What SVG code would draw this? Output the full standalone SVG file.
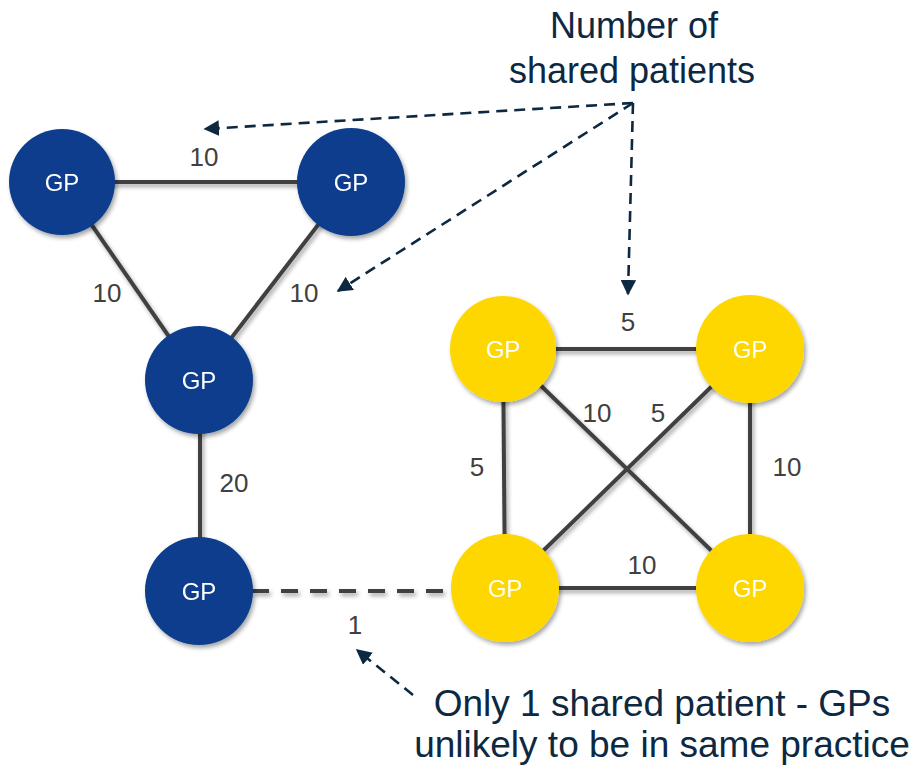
<svg xmlns="http://www.w3.org/2000/svg" width="915" height="766" viewBox="0 0 915 766">
  <style>
    .edge { stroke: #404040; stroke-width: 4; fill: none; }
    .weak { stroke-dasharray: 17 12; }
    .blue { fill: #083d8c; }
    .yellow { fill: #fed700; }
    .gp { font-family: "Liberation Sans", Arial, sans-serif; font-size: 24px; fill: #ffffff; text-anchor: middle; }
    .lbl { font-family: "Liberation Sans", Arial, sans-serif; font-size: 26px; fill: #404040; text-anchor: middle; }
    .note { font-family: "Liberation Sans", Arial, sans-serif; font-size: 36px; fill: #0d2841; text-anchor: middle; }
    .note-lg { font-size: 37px; }
    .pointer { stroke: #0d2841; stroke-width: 2.6; stroke-dasharray: 11 7; fill: none; marker-end: url(#head); }
  </style>
  <defs>
    <filter id="shadow" x="-30%" y="-30%" width="160%" height="160%">
      <feDropShadow dx="2" dy="3" stdDeviation="2.2" flood-color="#000000" flood-opacity="0.35"/>
    </filter>
    <marker id="head" viewBox="0 0 10 10" refX="9" refY="5" markerWidth="6" markerHeight="6" markerUnits="strokeWidth" orient="auto">
      <path d="M0,0 L10,5 L0,10 Z" fill="#0d2841"/>
    </marker>
  </defs>

  <rect width="915" height="766" fill="#ffffff"/>

  <!-- connectors between practices -->
  <g id="connectors" filter="url(#shadow)">
    <line class="edge" x1="62" y1="182" x2="351" y2="182"/>
    <line class="edge" x1="62" y1="182" x2="199" y2="380"/>
    <line class="edge" x1="351" y1="182" x2="199" y2="380"/>
    <line class="edge" x1="200" y1="380" x2="200" y2="591"/>
    <line class="edge weak" x1="252" y1="591" x2="452" y2="591"/>
    <line class="edge" x1="503" y1="349" x2="750" y2="349"/>
    <line class="edge" x1="503" y1="349" x2="505" y2="588"/>
    <line class="edge" x1="750" y1="349" x2="750" y2="588"/>
    <line class="edge" x1="505" y1="588" x2="750" y2="588"/>
    <line class="edge" x1="503" y1="349" x2="750" y2="588"/>
    <line class="edge" x1="750" y1="349" x2="505" y2="588"/>
  </g>

  <!-- edge weights -->
  <g id="weights">
    <text class="lbl" x="204" y="166">10</text>
    <text class="lbl" x="107" y="302">10</text>
    <text class="lbl" x="304" y="302">10</text>
    <text class="lbl" x="234" y="492">20</text>
    <text class="lbl" x="355" y="634">1</text>
    <text class="lbl" x="628" y="331">5</text>
    <text class="lbl" x="597" y="422">10</text>
    <text class="lbl" x="658" y="422">5</text>
    <text class="lbl" x="477" y="476">5</text>
    <text class="lbl" x="787" y="476">10</text>
    <text class="lbl" x="642" y="574">10</text>
  </g>

  <!-- blue cluster -->
  <g id="gp-blue-1" filter="url(#shadow)">
    <circle class="blue" cx="62" cy="182" r="53"/>
    <text class="gp" x="62" y="191">GP</text>
  </g>
  <g id="gp-blue-2" filter="url(#shadow)">
    <circle class="blue" cx="351" cy="182" r="54"/>
    <text class="gp" x="351" y="191">GP</text>
  </g>
  <g id="gp-blue-3" filter="url(#shadow)">
    <circle class="blue" cx="199" cy="380" r="54"/>
    <text class="gp" x="199" y="389">GP</text>
  </g>
  <g id="gp-blue-4" filter="url(#shadow)">
    <circle class="blue" cx="199" cy="591" r="54"/>
    <text class="gp" x="199" y="600">GP</text>
  </g>

  <!-- yellow cluster -->
  <g id="gp-yellow-1" filter="url(#shadow)">
    <circle class="yellow" cx="503" cy="349" r="53"/>
    <text class="gp" x="503" y="358">GP</text>
  </g>
  <g id="gp-yellow-2" filter="url(#shadow)">
    <circle class="yellow" cx="750" cy="349" r="54"/>
    <text class="gp" x="750" y="358">GP</text>
  </g>
  <g id="gp-yellow-3" filter="url(#shadow)">
    <circle class="yellow" cx="505" cy="588" r="54"/>
    <text class="gp" x="505" y="597">GP</text>
  </g>
  <g id="gp-yellow-4" filter="url(#shadow)">
    <circle class="yellow" cx="750" cy="588" r="54"/>
    <text class="gp" x="750" y="597">GP</text>
  </g>

  <!-- annotations -->
  <g id="note-shared">
    <text class="note" x="634" y="38">Number of</text>
    <text class="note" x="632" y="83">shared patients</text>
  </g>
  <g id="note-pointers">
    <path class="pointer" d="M633,103 L205,129"/>
    <path class="pointer" d="M633,103 L338,291"/>
    <path class="pointer" d="M633,103 L628,294"/>
    <path class="pointer" d="M413,695 L357,650"/>
  </g>
  <g id="note-weak">
    <text class="note note-lg" x="662" y="716">Only 1 shared patient - GPs</text>
    <text class="note note-lg" x="662" y="757">unlikely to be in same practice</text>
  </g>
</svg>
